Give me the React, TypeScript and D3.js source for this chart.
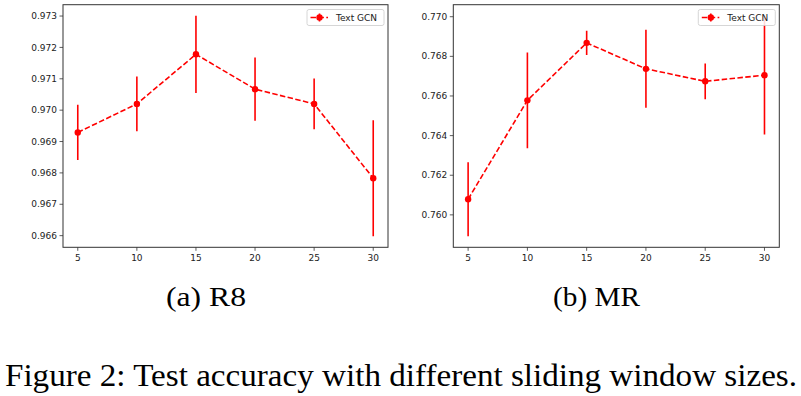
import React from 'react';
import * as d3 from 'd3';

// window sizes on the x axis
const windowSizes = [5, 10, 15, 20, 25, 30];

// R8 accuracy (mean, std)
const r8Mean = [0.96929, 0.9702, 0.97178, 0.97067, 0.9702, 0.96783];
const r8Err = [0.00088, 0.00087, 0.00123, 0.00101, 0.00081, 0.00185];

// MR accuracy (mean, std)
const mrMean = [0.76079, 0.76578, 0.76868, 0.76737, 0.76674, 0.76705];
const mrErr = [0.00187, 0.00242, 0.00061, 0.00197, 0.0009, 0.003];

const r8Ticks = [0.966, 0.967, 0.968, 0.969, 0.97, 0.971, 0.972, 0.973];
const mrTicks = [0.76, 0.762, 0.764, 0.766, 0.768, 0.77];
const xTicks = [5, 10, 15, 20, 25, 30];

const seriesName = 'Text GCN';
const subCaptions = ['(a) R8', '(b) MR'];
const figCaption = 'Figure 2: Test accuracy with different sliding window sizes.';

const RED = '#ff0000';
const tickFont = '"DejaVu Sans", sans-serif';
const serif = '"Liberation Serif", "Times New Roman", serif';

type PanelProps = {
  left: number;
  right: number;
  top: number;
  bottom: number;
  mean: number[];
  err: number[];
  yTicks: number[];
};

const Panel = ({ left, right, top, bottom, mean, err, yTicks }: PanelProps) => {
  // matplotlib-style 5% margins
  const xPad = (d3.max(windowSizes)! - d3.min(windowSizes)!) * 0.05;
  const x = d3.scaleLinear()
    .domain([d3.min(windowSizes)! - xPad, d3.max(windowSizes)! + xPad])
    .range([left, right]);

  const lo = d3.min(mean.map((m, i) => m - err[i]))!;
  const hi = d3.max(mean.map((m, i) => m + err[i]))!;
  const yPad = (hi - lo) * 0.05;
  const y = d3.scaleLinear().domain([lo - yPad, hi + yPad]).range([bottom, top]);

  const pts = windowSizes.map((w, i) => ({ w, m: mean[i], e: err[i] }));
  const line = d3.line<{ w: number; m: number }>()
    .x(d => x(d.w))
    .y(d => y(d.m));

  const clipId = `clip-${Math.round(left)}`;
  const fmt = d3.format('.3f');

  // legend box
  const lgW = 77;
  const lgX = right - lgW - 4;
  const lgY = 9.5;

  return (
    <g>
      <defs>
        <clipPath id={clipId}>
          <rect x={left} y={top} width={right - left} height={bottom - top} />
        </clipPath>
      </defs>

      <g clipPath={`url(#${clipId})`}>
        {pts.map(p => (
          <line
            key={'e' + p.w}
            x1={x(p.w)} x2={x(p.w)}
            y1={y(p.m - p.e)} y2={y(p.m + p.e)}
            stroke={RED} strokeWidth={1.6}
          />
        ))}
        <path
          d={line(pts) || ''}
          fill="none"
          stroke={RED}
          strokeWidth={1.6}
          strokeDasharray="5.5,2.4"
        />
        {pts.map(p => (
          <circle key={'c' + p.w} cx={x(p.w)} cy={y(p.m)} r={3.2} fill={RED} />
        ))}
      </g>

      {/* frame */}
      <rect
        x={left} y={top} width={right - left} height={bottom - top}
        fill="none" stroke="#333" strokeWidth={1}
      />

      {/* y ticks */}
      {yTicks.map(t => (
        <g key={'y' + t}>
          <line x1={left - 3.5} x2={left} y1={y(t)} y2={y(t)} stroke="#333" strokeWidth={0.8} />
          <text
            x={left - 6} y={y(t)} dy="0.35em"
            textAnchor="end" fontSize={9} fontFamily={tickFont} fill="#222"
          >
            {fmt(t)}
          </text>
        </g>
      ))}

      {/* x ticks */}
      {xTicks.map(t => (
        <g key={'x' + t}>
          <line x1={x(t)} x2={x(t)} y1={bottom} y2={bottom + 3.5} stroke="#333" strokeWidth={0.8} />
          <text
            x={x(t)} y={bottom + 14}
            textAnchor="middle" fontSize={9} fontFamily={tickFont} fill="#222"
          >
            {t}
          </text>
        </g>
      ))}

      {/* legend */}
      <rect
        x={lgX} y={lgY} width={lgW} height={16} rx={2}
        fill="#fff" fillOpacity={0.85} stroke="#ccc" strokeWidth={0.8}
      />
      <line
        x1={lgX + 3.5} x2={lgX + 21} y1={lgY + 8} y2={lgY + 8}
        stroke={RED} strokeWidth={1.6} strokeDasharray="5.5,2.4"
      />
      <line
        x1={lgX + 12.5} x2={lgX + 12.5} y1={lgY + 4} y2={lgY + 12}
        stroke={RED} strokeWidth={1.6}
      />
      <circle cx={lgX + 12.5} cy={lgY + 8} r={3.2} fill={RED} />
      <text
        x={lgX + 29} y={lgY + 8} dy="0.35em"
        fontSize={9} fontFamily={tickFont} fill="#222"
      >
        {seriesName}
      </text>
    </g>
  );
};

export default function App() {
  return (
    <div style={{ position: 'absolute', left: 0, top: 0 }}>
      <svg width={801} height={396} style={{ display: 'block', background: '#fff' }}>
        <Panel left={63} right={388} top={4.7} bottom={247.3} mean={r8Mean} err={r8Err} yTicks={r8Ticks} />
        <Panel left={453.3} right={779.3} top={4.7} bottom={247.3} mean={mrMean} err={mrErr} yTicks={mrTicks} />

        <text
          x={166} y={306} fontSize={27} fontFamily={serif}
          textLength={80} lengthAdjust="spacingAndGlyphs" fill="#000"
        >
          {subCaptions[0]}
        </text>
        <text
          x={553} y={306} fontSize={27} fontFamily={serif}
          textLength={87} lengthAdjust="spacingAndGlyphs" fill="#000"
        >
          {subCaptions[1]}
        </text>
        <text
          x={5} y={386} fontSize={32} fontFamily={serif}
          textLength={792} lengthAdjust="spacingAndGlyphs" fill="#000"
        >
          {figCaption}
        </text>
      </svg>
    </div>
  );
}
